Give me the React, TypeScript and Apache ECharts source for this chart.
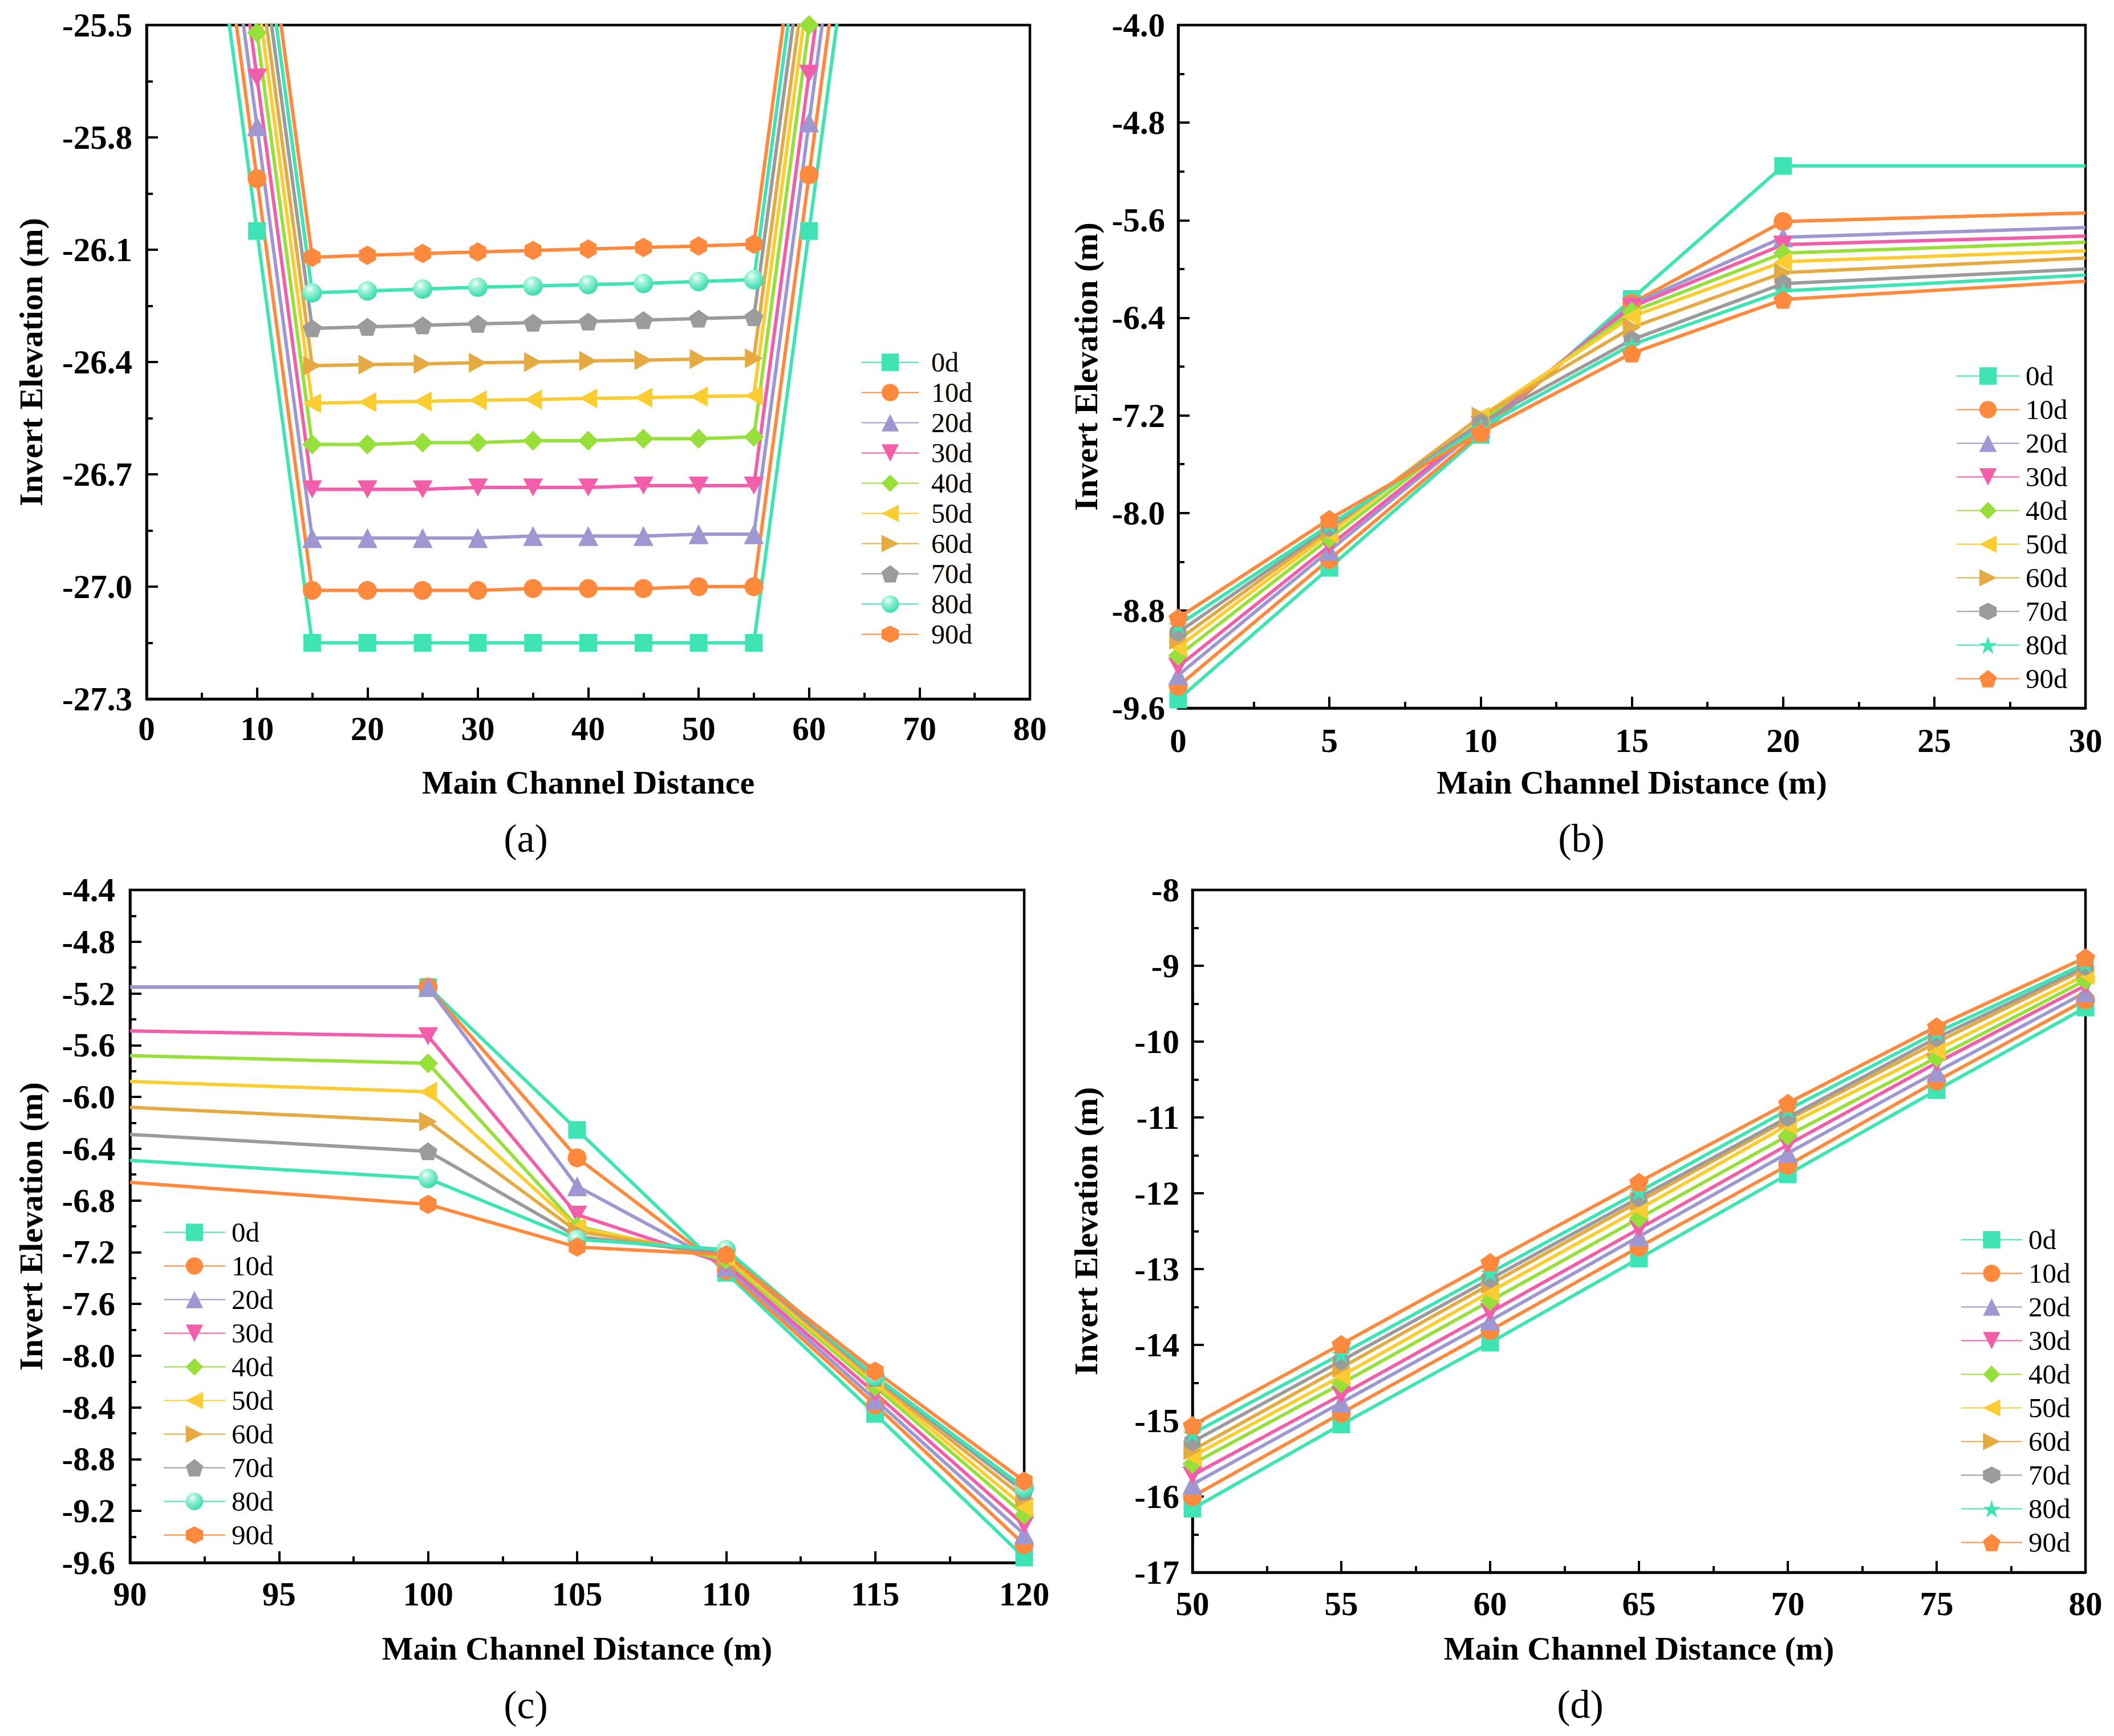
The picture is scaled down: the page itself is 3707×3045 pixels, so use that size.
import React, { useEffect, useRef } from "react";
import * as echarts from "echarts";

// ---------- series names & colours ----------
const NAMES = ["0d", "10d", "20d", "30d", "40d", "50d", "60d", "70d", "80d", "90d"];
const COLORS = ["#3fe4b4", "#ff8a3d", "#9d98d1", "#f25ea9", "#97e03c", "#fbcd30", "#e6aa42", "#9b9b9b", "#3fe4b4", "#ff8a3d"];

// ---------- panel (a) ----------
const xA = [5, 10, 15, 20, 25, 30, 35, 40, 45, 50, 55, 60, 65];
const a0d = [-24.95, -26.05, -27.15, -27.15, -27.15, -27.15, -27.15, -27.15, -27.15, -27.15, -27.15, -26.05, -24.95];
const a10d = [-24.81, -25.91, -27.01, -27.01, -27.01, -27.01, -27.005, -27.005, -27.005, -27.0, -27.0, -25.9, -24.8];
const a20d = [-24.67, -25.77, -26.87, -26.87, -26.87, -26.87, -26.865, -26.865, -26.865, -26.86, -26.86, -25.76, -24.66];
const a30d = [-24.54, -25.64, -26.74, -26.74, -26.74, -26.735, -26.735, -26.735, -26.73, -26.73, -26.73, -25.63, -24.53];
const a40d = [-24.42, -25.52, -26.62, -26.62, -26.615, -26.615, -26.61, -26.61, -26.605, -26.605, -26.6, -25.5, -24.4];
const a50d = [-24.31, -25.41, -26.51, -26.507, -26.505, -26.502, -26.5, -26.497, -26.495, -26.492, -26.49, -25.39, -24.29];
const a60d = [-24.21, -25.31, -26.41, -26.407, -26.405, -26.402, -26.4, -26.397, -26.395, -26.392, -26.39, -25.29, -24.19];
const a70d = [-24.11, -25.21, -26.31, -26.306, -26.302, -26.298, -26.295, -26.292, -26.288, -26.284, -26.28, -25.18, -24.08];
const a80d = [-24.015, -25.115, -26.215, -26.21, -26.205, -26.2, -26.197, -26.193, -26.19, -26.185, -26.18, -25.08, -23.98];
const a90d = [-23.92, -25.02, -26.12, -26.115, -26.11, -26.106, -26.102, -26.098, -26.094, -26.09, -26.085, -24.985, -23.885];

// ---------- panel (b) ----------
const xB = [0, 5, 10, 15, 20, 30];
const b0d = [-9.53, -8.45, -7.36, -6.245, -5.155, -5.155];
const b10d = [-9.42, -8.38, -7.34, -6.28, -5.61, -5.54];
const b20d = [-9.33, -8.31, -7.3, -6.29, -5.74, -5.66];
const b30d = [-9.26, -8.27, -7.28, -6.31, -5.8, -5.73];
const b40d = [-9.17, -8.21, -7.25, -6.35, -5.87, -5.78];
const b50d = [-9.1, -8.17, -7.21, -6.39, -5.94, -5.85];
const b60d = [-9.04, -8.14, -7.21, -6.48, -6.03, -5.91];
const b70d = [-8.98, -8.12, -7.26, -6.58, -6.12, -6.0];
const b80d = [-8.92, -8.1, -7.3, -6.62, -6.18, -6.05];
const b90d = [-8.86, -8.05, -7.34, -6.69, -6.25, -6.1];

// ---------- panel (c) ----------
const xC = [90, 100, 105, 110, 115, 120];
const c0d = [-5.15, -5.15, -6.255, -7.36, -8.45, -9.56];
const c10d = [-5.15, -5.15, -6.47, -7.34, -8.38, -9.46];
const c20d = [-5.15, -5.15, -6.69, -7.31, -8.34, -9.38];
const c30d = [-5.49, -5.53, -6.91, -7.29, -8.29, -9.31];
const c40d = [-5.68, -5.74, -7.0, -7.26, -8.24, -9.23];
const c50d = [-5.88, -5.96, -7.01, -7.24, -8.21, -9.17];
const c60d = [-6.08, -6.19, -7.04, -7.22, -8.19, -9.1];
const c70d = [-6.29, -6.42, -7.08, -7.21, -8.17, -9.05];
const c80d = [-6.49, -6.63, -7.1, -7.18, -8.16, -9.02];
const c90d = [-6.66, -6.83, -7.16, -7.22, -8.12, -8.97];

// ---------- panel (d) ----------
const xD = [50, 55, 60, 65, 70, 75, 80];
const d0d = [-16.16, -15.05, -13.97, -12.86, -11.75, -10.64, -9.55];
const d10d = [-16.0, -14.9, -13.81, -12.71, -11.63, -10.52, -9.45];
const d20d = [-15.84, -14.76, -13.68, -12.57, -11.47, -10.4, -9.35];
const d30d = [-15.72, -14.66, -13.57, -12.47, -11.36, -10.28, -9.26];
const d40d = [-15.57, -14.51, -13.42, -12.33, -11.24, -10.21, -9.19];
const d50d = [-15.47, -14.41, -13.3, -12.21, -11.1, -10.11, -9.12];
const d60d = [-15.39, -14.3, -13.2, -12.11, -11.03, -10.01, -9.04];
const d70d = [-15.28, -14.21, -13.13, -12.06, -11.0, -9.95, -9.01];
const d80d = [-15.17, -14.12, -13.05, -11.98, -10.9, -9.88, -8.97];
const d90d = [-15.06, -13.99, -12.91, -11.85, -10.81, -9.8, -8.89];

// ---------- symbols ----------
const PENTAGON = "path://M50,0 L97.55,34.55 L79.39,90.45 L20.61,90.45 L2.45,34.55 Z";
const HEXAGON = "path://M50,0 L93.3,25 L93.3,75 L50,100 L6.7,75 L6.7,25 Z";
const STAR = "path://M50,0 L61.8,35.4 L99,35.4 L69.1,57.3 L80.9,92.7 L50,70.8 L19.1,92.7 L30.9,57.3 L1,35.4 L38.2,35.4 Z";
const TRI_DOWN = "path://M0,0 L100,0 L50,90 Z";
const TRI_LEFT = "path://M0,50 L90,0 L90,100 Z";
const TRI_RIGHT = "path://M0,0 L90,50 L0,100 Z";
const SYMBOLS_AC = ["rect", "circle", "triangle", TRI_DOWN, "diamond", TRI_LEFT, TRI_RIGHT, PENTAGON, "sphere", HEXAGON];
const SYMBOLS_BD = ["rect", "circle", "triangle", TRI_DOWN, "diamond", TRI_LEFT, TRI_RIGHT, HEXAGON, STAR, PENTAGON];
const SIZES = [31, 33, 35, 35, 35, 35, 35, 33, 34, 34];

const SERIF = '"Liberation Serif", "Times New Roman", serif';

type Cfg = {
  xs: number[];
  ys: number[][];
  symbols: string[];
  hideFirst?: boolean;
  hideLast?: boolean;
  xMin: number; xMax: number; xInt: number;
  yMin: number; yMax: number; yInt: number; yDec: number;
  grid: { left: number; top: number; width: number; height: number };
  xName: string; xNameGap: number; yNameGap: number;
  xLabelMargin: number; yLabelMargin: number;
  legend: { left: number; top: number; itemWidth: number; lineHeight: number; fontSize: number; textGap: number };
  tag: string; tagX: number; tagY: number;
};

function buildOption(c: Cfg) {
  const axisLine = { show: true, onZero: false, lineStyle: { color: "#000", width: 4.5 } };
  const axisTick = { show: true, inside: true, length: 20, lineStyle: { color: "#000", width: 4 } };
  const minorTick = { show: true, splitNumber: 2, length: 11, lineStyle: { color: "#000", width: 4 } };
  const labelStyle = { fontFamily: SERIF, fontWeight: "bold", fontSize: 59, color: "#000" };
  const nameStyle = { fontFamily: SERIF, fontWeight: "bold", fontSize: 58, color: "#000" };

  const series = c.ys.map((ys, i) => {
    const sym = c.symbols[i];
    const isSphere = sym === "sphere";
    const fill = isSphere
      ? new echarts.graphic.RadialGradient(0.38, 0.3, 0.75, [
          { offset: 0, color: "#ffffff" },
          { offset: 0.25, color: "#a8f6df" },
          { offset: 1, color: "#30d8a6" },
        ])
      : COLORS[i];
    const last = c.xs.length - 1;
    return {
      type: "line",
      name: NAMES[i],
      symbol: isSphere ? "circle" : sym,
      symbolSize: SIZES[i],
      symbolKeepAspect: true,
      showAllSymbol: true,
      clip: true,
      silent: true,
      lineStyle: { color: COLORS[i], width: 6 },
      itemStyle: { color: fill, borderWidth: 0 },
      emphasis: { disabled: true },
      data: ys.map((y, k) => {
        if ((c.hideFirst && k === 0) || (c.hideLast && k === last)) {
          return { value: [c.xs[k], y], symbol: "none" };
        }
        return [c.xs[k], y];
      }),
    };
  });

  return {
    animation: false,
    backgroundColor: "#ffffff",
    grid: {
      ...c.grid,
      show: true,
      borderColor: "#000",
      borderWidth: 4.5,
      backgroundColor: "transparent",
      containLabel: false,
    },
    xAxis: {
      type: "value",
      min: c.xMin,
      max: c.xMax,
      interval: c.xInt,
      axisLine,
      axisTick,
      minorTick,
      splitLine: { show: false },
      axisLabel: { ...labelStyle, margin: c.xLabelMargin, formatter: (v: number) => String(Math.round(v)) },
      name: c.xName,
      nameLocation: "middle",
      nameGap: c.xNameGap,
      nameTextStyle: nameStyle,
    },
    yAxis: {
      type: "value",
      min: c.yMin,
      max: c.yMax,
      interval: c.yInt,
      axisLine,
      axisTick,
      minorTick,
      splitLine: { show: false },
      axisLabel: { ...labelStyle, margin: c.yLabelMargin, formatter: (v: number) => v.toFixed(c.yDec) },
      name: "Invert Elevation (m)",
      nameLocation: "middle",
      nameGap: c.yNameGap,
      nameTextStyle: nameStyle,
    },
    legend: {
      show: true,
      orient: "vertical",
      left: c.legend.left,
      top: c.legend.top,
      padding: 0,
      itemGap: 0,
      itemWidth: c.legend.itemWidth,
      itemHeight: 38,
      selectedMode: false,
      data: NAMES,
      textStyle: {
        fontFamily: SERIF,
        fontSize: c.legend.fontSize,
        color: "#000",
        lineHeight: c.legend.lineHeight,
        padding: [0, 0, 0, c.legend.textGap],
      },
    },
    graphic: [
      {
        type: "text",
        x: c.tagX,
        y: c.tagY,
        silent: true,
        style: {
          text: c.tag,
          fill: "#000",
          fontFamily: SERIF,
          fontSize: 70,
          align: "center",
          verticalAlign: "middle",
          textAlign: "center",
          textVerticalAlign: "middle",
        },
      },
    ],
    series,
  };
}

const CFG_A: Cfg = {
  xs: xA,
  ys: [a0d, a10d, a20d, a30d, a40d, a50d, a60d, a70d, a80d, a90d],
  symbols: SYMBOLS_AC,
  xMin: 0, xMax: 80, xInt: 10,
  yMin: -27.3, yMax: -25.5, yInt: 0.3, yDec: 1,
  grid: { left: 257, top: 44, width: 1549, height: 1182 },
  xName: "Main Channel Distance", xNameGap: 117, yNameGap: 174,
  xLabelMargin: 22, yLabelMargin: 25,
  legend: { left: 1510, top: 609, itemWidth: 100, lineHeight: 53, fontSize: 48, textGap: 17 },
  tag: "(a)", tagX: 922, tagY: 1470,
};

const CFG_B: Cfg = {
  xs: xB,
  ys: [b0d, b10d, b20d, b30d, b40d, b50d, b60d, b70d, b80d, b90d],
  symbols: SYMBOLS_BD,
  hideLast: true,
  xMin: 0, xMax: 30, xInt: 5,
  yMin: -9.6, yMax: -4.0, yInt: 0.8, yDec: 1,
  grid: { left: 213, top: 44, width: 1591, height: 1198 },
  xName: "Main Channel Distance (m)", xNameGap: 101, yNameGap: 133,
  xLabelMargin: 27, yLabelMargin: 23,
  legend: { left: 1577, top: 630, itemWidth: 110, lineHeight: 59, fontSize: 49, textGap: 6 },
  tag: "(b)", tagX: 920, tagY: 1470,
};

const CFG_C: Cfg = {
  xs: xC,
  ys: [c0d, c10d, c20d, c30d, c40d, c50d, c60d, c70d, c80d, c90d],
  symbols: SYMBOLS_AC,
  hideFirst: true,
  xMin: 90, xMax: 120, xInt: 5,
  yMin: -9.6, yMax: -4.4, yInt: 0.4, yDec: 1,
  grid: { left: 228, top: 39, width: 1568, height: 1180 },
  xName: "Main Channel Distance (m)", xNameGap: 121, yNameGap: 145,
  xLabelMargin: 25, yLabelMargin: 26,
  legend: { left: 286, top: 610, itemWidth: 108, lineHeight: 59, fontSize: 49, textGap: 6 },
  tag: "(c)", tagX: 922, tagY: 1468,
};

const CFG_D: Cfg = {
  xs: xD,
  ys: [d0d, d10d, d20d, d30d, d40d, d50d, d60d, d70d, d80d, d90d],
  symbols: SYMBOLS_BD,
  xMin: 50, xMax: 80, xInt: 5,
  yMin: -17, yMax: -8, yInt: 1, yDec: 0,
  grid: { left: 238, top: 39, width: 1566, height: 1197 },
  xName: "Main Channel Distance (m)", xNameGap: 104, yNameGap: 158,
  xLabelMargin: 25, yLabelMargin: 23,
  legend: { left: 1585, top: 623, itemWidth: 107, lineHeight: 59, fontSize: 49, textGap: 6 },
  tag: "(d)", tagX: 918, tagY: 1467,
};

function Panel({ cfg, left, top, width, height }: { cfg: Cfg; left: number; top: number; width: number; height: number }) {
  const ref = useRef<HTMLDivElement>(null);
  useEffect(() => {
    if (!ref.current) return;
    const chart = echarts.init(ref.current, null, { renderer: "svg" });
    chart.setOption(buildOption(cfg) as any);
    return () => chart.dispose();
  }, [cfg]);
  return <div ref={ref} style={{ position: "absolute", left, top, width, height }} />;
}

export default function App() {
  return (
    <div style={{ position: "absolute", left: 0, top: 0, width: 3707, height: 3045, background: "#fff", overflow: "hidden" }}>
      <Panel cfg={CFG_A} left={0} top={0} width={1853} height={1522} />
      <Panel cfg={CFG_B} left={1853} top={0} width={1854} height={1522} />
      <Panel cfg={CFG_C} left={0} top={1522} width={1853} height={1523} />
      <Panel cfg={CFG_D} left={1853} top={1522} width={1854} height={1523} />
    </div>
  );
}
